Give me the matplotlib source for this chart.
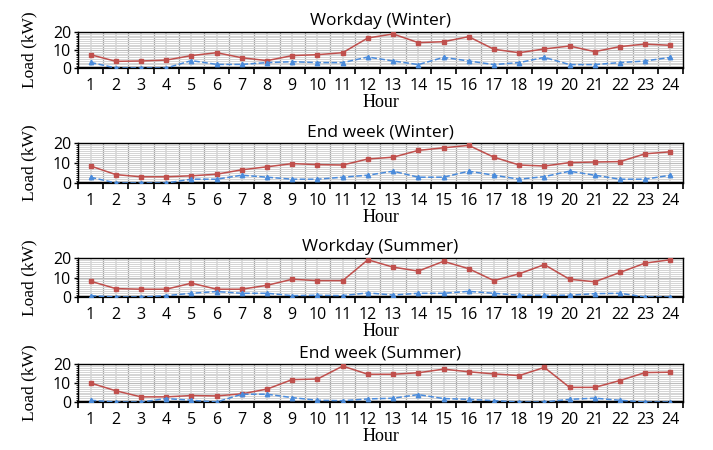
import numpy as np
import matplotlib.pyplot as plt
from matplotlib.ticker import MultipleLocator, FixedLocator

hours = list(range(1, 25))
titles = ['Workday (Winter)', 'End week (Winter)', 'Workday (Summer)', 'End week (Summer)']

# red solid line (square markers)
red_ww = [7.4, 3.7, 3.9, 4.4, 6.9, 8.5, 5.7, 4.1, 6.9, 7.4, 8.5, 16.7,
          18.9, 14.1, 14.6, 17.4, 10.4, 8.5, 10.6, 12.2, 9.1, 11.9, 13.3, 12.6]
red_ew = [8.5, 4.2, 3.1, 3.1, 3.6, 4.4, 6.6, 8.1, 9.7, 9.2, 9.0, 12.0,
          12.9, 16.3, 17.6, 18.8, 12.9, 9.0, 8.5, 10.2, 10.5, 10.7, 14.6, 15.6]
red_ws = [8.1, 4.3, 4.0, 4.0, 7.1, 4.0, 4.0, 6.0, 9.1, 8.4, 8.4, 19.1,
          15.3, 13.3, 18.3, 14.5, 8.4, 11.9, 16.6, 9.1, 7.8, 12.6, 17.4, 19.1]
red_es = [10.0, 5.9, 2.7, 2.7, 3.4, 3.2, 4.3, 6.8, 11.8, 12.1, 18.9, 14.6,
          14.6, 15.4, 17.3, 15.9, 14.8, 13.9, 18.2, 7.7, 7.7, 11.3, 15.5, 15.7]

# blue dashed line (triangle markers)
blue_ww = [3.1, 0, 0, 0, 4.1, 2.0, 2.0, 3.0, 3.5, 3.0, 3.0, 6.1,
           3.9, 1.9, 5.9, 3.9, 1.9, 3.0, 5.9, 1.9, 1.9, 3.0, 3.9, 5.9]
blue_ew = [2.9, 0, 0, 0, 1.9, 1.9, 3.9, 2.9, 1.9, 1.9, 2.9, 3.9,
           5.9, 2.9, 2.9, 5.9, 3.9, 1.9, 3.2, 5.9, 3.9, 1.9, 1.9, 3.9]
blue_ws = [0.7, 0, 0, 0.7, 1.9, 2.8, 1.9, 1.9, 0.7, 0.9, 0.7, 2.1,
           1.0, 1.9, 1.9, 2.9, 1.9, 0.9, 0.9, 0.9, 1.7, 1.9, 0, 0]
blue_es = [0.9, 0, 0, 1.8, 0.9, 0, 4.1, 4.1, 2.3, 0.9, 0.7, 1.6,
           2.0, 3.9, 1.8, 1.4, 0.7, 0, 0, 1.4, 2.0, 0.9, 0, 0]

reds = [red_ww, red_ew, red_ws, red_es]
blues = [blue_ww, blue_ew, blue_ws, blue_es]

# axes boxes in pixels (top, bottom)
boxes = [(32, 68), (143, 183), (258, 297), (364, 402)]
W, H = 713, 450

fig = plt.figure(figsize=(7.13, 4.5), dpi=100)

for i in range(4):
    top, bot = boxes[i]
    ax = fig.add_axes([78 / W, 1 - bot / H, 605 / W, (bot - top) / H])

    ax.plot(hours, reds[i], '-s', color='#C0504D', lw=1.1, ms=2.8, zorder=3)
    ax.plot(hours, blues[i], '--^', color='#4A8BDB', lw=1.1, ms=3.2, zorder=3)

    ax.set_xlim(0.5, 24.5)
    ax.set_ylim(0, 20)
    ax.set_yticks([0, 10, 20])
    ax.yaxis.set_minor_locator(MultipleLocator(1))
    ax.set_xticks(hours)
    ax.xaxis.set_minor_locator(FixedLocator(np.arange(0.5, 25, 1)))

    # light grid at centres, darker at boundaries
    ax.grid(True, which='major', axis='x', color='#d8d8d8', lw=1.2)
    ax.grid(True, which='minor', axis='x', color='#a6a6a6', lw=0.9)
    ax.grid(True, which='minor', axis='y', color='#d4d4d4', lw=0.7)
    ax.grid(True, which='major', axis='y', color='#bcbcbc', lw=0.8)
    ax.set_axisbelow(True)

    ax.tick_params(axis='x', which='major', length=0, pad=7, labelsize=11.5)
    ax.tick_params(axis='x', which='minor', length=4, width=1.2, direction='out')
    ax.tick_params(axis='y', which='major', length=3, width=1.0, labelsize=11.5, pad=2)
    ax.tick_params(axis='y', which='minor', length=1.5, width=0.6)
    for lab in ax.get_xticklabels() + ax.get_yticklabels():
        lab.set_fontfamily('Open Sans')
    for s in ax.spines.values():
        s.set_linewidth(1.0)
    ax.spines['bottom'].set_linewidth(1.6)

    ax.set_title(titles[i], fontsize=12.5, family='Open Sans', pad=5)
    ax.set_ylabel('Load (kW)', family='Liberation Serif', fontsize=12.5, labelpad=11)
    ax.set_xlabel('Hour', family='Liberation Serif', fontsize=13, labelpad=0)

fig.savefig('out.png', dpi=100)
